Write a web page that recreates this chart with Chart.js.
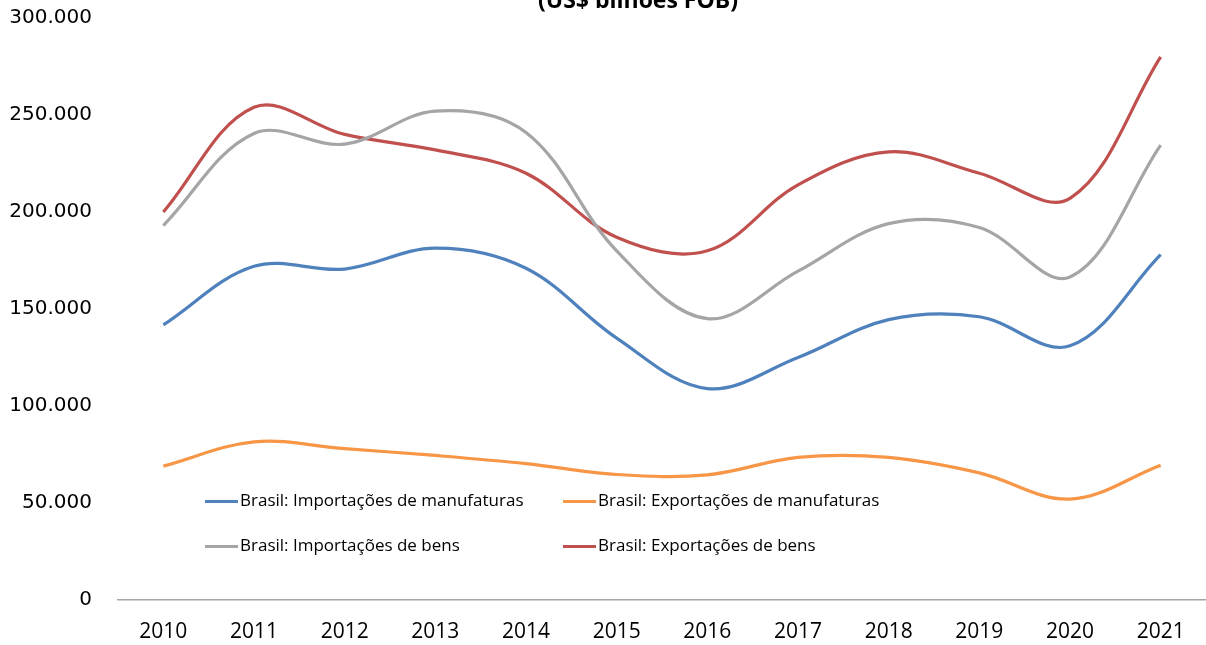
<!DOCTYPE html>
<html>
<head>
<meta charset="utf-8">
<script src="https://cdn.jsdelivr.net/npm/chart.js@4.4.1/dist/chart.umd.min.js"></script>
<style>
  html, body { margin: 0; padding: 0; background: #fff; }
  #wrap { position: relative; width: 1206px; height: 645px; overflow: hidden; }
  #title { position: absolute; left: 438px; width: 400px; top: -16.6px; text-align: center;
           font: bold 23px "Open Sans", sans-serif; color: #000; white-space: nowrap; }
  .lg { position: absolute; height: 20px; font: 17px "Open Sans", sans-serif; color: #000; white-space: nowrap; }
  .lg .sw { position: absolute; left: 0; width: 33px; height: 3px; top: 10px; }
  .lg .tx { position: absolute; left: 35px; top: 0; line-height: 20px; }
</style>
</head>
<body>
<div id="wrap">
  <canvas id="c" width="1206" height="645"></canvas>
  <div id="title">(US$ bilhões FOB)</div>
  <div id="legend"></div>
</div>
<script>
const titleText = "(US$ bilhões FOB)";
const years = ["2010","2011","2012","2013","2014","2015","2016","2017","2018","2019","2020","2021"];
const seriesNames = [
  "Brasil: Importações de manufaturas",
  "Brasil: Exportações de manufaturas",
  "Brasil: Importações de bens",
  "Brasil: Exportações de bens"
];
const importManuf = [141800, 172000, 170600, 181400, 171000, 135000, 109000, 125000, 144500, 146000, 131000, 178000];
const exportManuf = [69000, 81500, 78000, 74500, 70300, 64700, 64500, 73500, 73500, 65500, 52000, 69500];
const importBens  = [193000, 240500, 235000, 252000, 241000, 180000, 145000, 169500, 194000, 192000, 166500, 234500];
const exportBens  = [200000, 254000, 240000, 232000, 220000, 187000, 180000, 214000, 231000, 220000, 207000, 280000];
const yTicks = [0, 50000, 100000, 150000, 200000, 250000, 300000];
const colors = ["#4F81BD", "#F79646", "#A5A5A5", "#C0504D"];

function fmt(v) {
  return String(Math.round(v)).replace(/\B(?=(\d{3})+(?!\d))/g, ".");
}

const seriesValues = [importManuf, exportManuf, importBens, exportBens];
const datasets = seriesValues.map((vals, i) => ({
  label: seriesNames[i],
  data: vals,
  borderColor: colors[i],
  backgroundColor: colors[i],
  borderWidth: 3.2,
  pointRadius: 0,
  pointHoverRadius: 0,
  tension: 0.36,
  fill: false
}));

const chart = new Chart(document.getElementById("c"), {
  type: "line",
  data: { labels: years, datasets: datasets },
  options: {
    responsive: false,
    devicePixelRatio: 1,
    animation: false,
    layout: { padding: { top: 18, right: 0, left: 0, bottom: 0 } },
    plugins: { legend: { display: false }, title: { display: false }, tooltip: { enabled: false } },
    scales: {
      x: {
        offset: true,
        grid: { display: false, drawTicks: false },
        border: { display: true, color: "#a6a6a6", width: 1.5 },
        ticks: { color: "#000", font: { family: "Open Sans", size: 21 }, padding: 19, maxRotation: 0 },
        afterFit: s => { s.height = 45; s.paddingLeft = 0; s.paddingRight = 0; }
      },
      y: {
        min: 0, max: 300000,
        afterBuildTicks: s => { s.ticks = yTicks.map(v => ({ value: v })); },
        grid: { display: false, drawTicks: false },
        border: { display: false },
        ticks: { color: "#000", font: { family: "DejaVu Sans", size: 20 }, padding: 26,
                 callback: v => fmt(v) },
        afterFit: s => { s.width = 118; s.paddingTop = 0; s.paddingBottom = 0; }
      }
    }
  }
});

// HTML legend built from the chart's datasets
const legendPos = [
  { left: 205, top: 490 }, { left: 563, top: 490 },
  { left: 205, top: 535 }, { left: 563, top: 535 }
];
const lg = document.getElementById("legend");
chart.data.datasets.forEach((ds, i) => {
  const d = document.createElement("div");
  d.className = "lg";
  d.style.left = legendPos[i].left + "px";
  d.style.top = legendPos[i].top + "px";
  const sw = document.createElement("div");
  sw.className = "sw";
  sw.style.background = ds.borderColor;
  const tx = document.createElement("div");
  tx.className = "tx";
  tx.textContent = ds.label;
  d.appendChild(sw); d.appendChild(tx);
  lg.appendChild(d);
});
document.getElementById("title").textContent = titleText;
</script>
</body>
</html>
